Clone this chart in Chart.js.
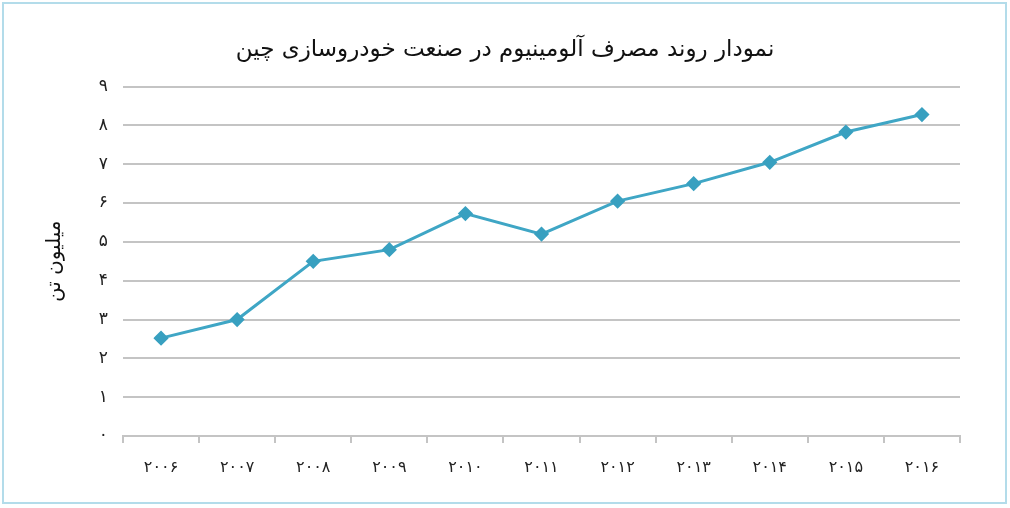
<!DOCTYPE html>
<html lang="fa">
<head>
<meta charset="utf-8">
<title>نمودار روند مصرف آلومینیوم</title>
<script src="https://cdn.jsdelivr.net/npm/chart.js@4/dist/chart.umd.min.js"></script>
<style>
    html, body { margin: 0; padding: 0; background: #fff; }
    #wrap { position: relative; width: 1010px; height: 508px; }
    #frame {
        position: absolute; left: 2px; top: 2px; width: 1001px; height: 498px;
        border: 2px solid #b3dcea; pointer-events: none;
    }
    canvas { position: absolute; left: 0; top: 0; }
</style>
</head>
<body>
<div id="wrap">
    <canvas id="aluminiumChart" width="1010" height="508"></canvas>
    <div id="frame"></div>
</div>
<script>
// data
const years = ['۲۰۰۶', '۲۰۰۷', '۲۰۰۸', '۲۰۰۹', '۲۰۱۰', '۲۰۱۱', '۲۰۱۲', '۲۰۱۳', '۲۰۱۴', '۲۰۱۵', '۲۰۱۶'];
const consumption = [2.52, 3.0, 4.5, 4.8, 5.73, 5.2, 6.05, 6.5, 7.05, 7.83, 8.28];
const yTickLabels = ['۰', '۱', '۲', '۳', '۴', '۵', '۶', '۷', '۸', '۹'];

const chartTitle = 'نمودار روند مصرف آلومینیوم در صنعت خودروسازی چین';
const yTitle = 'میلیون تن';

const fontFamily = '"DejaVu Sans", sans-serif';
const gridColor = '#c4c4c4';
const lineColor = '#3fa6c5';

new Chart(document.getElementById('aluminiumChart'), {
    type: 'line',
    data: {
        labels: years,
        datasets: [{
            label: 'مصرف',
            data: consumption,
            borderColor: lineColor,
            backgroundColor: lineColor,
            borderWidth: 3,
            tension: 0,
            pointStyle: 'rectRot',
            pointRadius: 5.5,
            pointBackgroundColor: '#38a0c0',
            pointBorderColor: '#38a0c0',
            fill: false
        }]
    },
    options: {
        responsive: false,
        animation: false,
        devicePixelRatio: 1,
        // equal side padding keeps the title centred on the page
        layout: { padding: { left: 50, right: 50, top: 0, bottom: 0 } },
        plugins: {
            legend: { display: false },
            tooltip: { enabled: false },
            title: {
                display: true,
                text: chartTitle,
                color: '#111',
                font: { family: fontFamily, size: 23, weight: 'normal' },
                padding: { top: 36, bottom: 23 }
            }
        },
        scales: {
            x: {
                offset: true,
                afterFit: (s) => { s.height = 72; },
                grid: {
                    offset: true,
                    drawOnChartArea: false,
                    drawTicks: true,
                    tickLength: 7,
                    color: gridColor,
                    lineWidth: 2
                },
                border: { display: true, color: gridColor, width: 2 },
                ticks: {
                    color: '#222',
                    padding: 15,
                    font: { family: fontFamily, size: 16 }
                }
            },
            y: {
                min: 0,
                max: 9,
                afterFit: (s) => { s.width = 73; },
                grid: { color: gridColor, lineWidth: 2, drawTicks: false },
                border: { display: false },
                ticks: {
                    stepSize: 1,
                    padding: 15,
                    color: '#222',
                    font: { family: fontFamily, size: 17 },
                    callback: (v) => yTickLabels[v]
                },
                title: {
                    display: true,
                    text: yTitle,
                    color: '#111',
                    font: { family: fontFamily, size: 20 },
                    padding: { top: -7, bottom: 0 }
                }
            }
        }
    }
});
</script>
</body>
</html>
